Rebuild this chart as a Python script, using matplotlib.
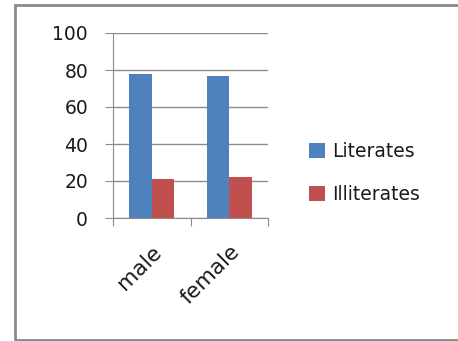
import numpy as np
import matplotlib.pyplot as plt
from matplotlib.patches import Rectangle

# chart values
categories = ["male", "female"]
literates = [77.8, 76.8]
illiterates = [21.1, 22.3]
series_names = ["Literates", "Illiterates"]
colors = ["#4F81BD", "#C0504D"]

plt.rcParams['font.family'] = ['DejaVu Sans']

W, H = 458, 341
fig = plt.figure(figsize=(W / 100, H / 100), dpi=100)

# plot area in pixels: x 113..268, y 33..218
ax = fig.add_axes([113 / W, 1 - 218 / H, (268 - 113) / W, (218 - 33) / H])

x = np.arange(len(categories))
bw = 0.29
b1 = ax.bar(x - bw / 2, literates, bw, color=colors[0], label=series_names[0])
b2 = ax.bar(x + bw / 2, illiterates, bw, color=colors[1], label=series_names[1])

ax.set_xlim(-0.5, len(categories) - 0.5)
ax.set_ylim(0, 100)
ax.set_yticks(range(0, 101, 20))
ax.yaxis.grid(True, color="#8c8c8c", linewidth=1)
ax.set_axisbelow(True)
for s in ["top", "right"]:
    ax.spines[s].set_visible(False)
ax.spines["left"].set_color("#8c8c8c")
ax.spines["bottom"].set_color("#8c8c8c")

# category ticks on boundaries, labels at centres
ax.set_xticks(np.arange(len(categories) + 1) - 0.5)
ax.set_xticklabels([])
ax.set_xticks(x, minor=True)
ax.set_xticklabels(categories, minor=True, rotation=45, ha="right",
                   rotation_mode="anchor", fontsize=15.5, color="#1a1a1a")
ax.tick_params(axis="x", which="major", length=6, color="#8c8c8c", direction="out")
ax.tick_params(axis="x", which="minor", length=0, pad=17)
ax.tick_params(axis="y", length=6, color="#8c8c8c", labelsize=13.5,
               labelcolor="#1a1a1a", pad=12)

leg = fig.legend(handles=[b1, b2], loc="center left",
                 bbox_to_anchor=(292 / W, 1 - 173 / H), frameon=False,
                 fontsize=13.5, handlelength=0.85, handleheight=0.85,
                 handletextpad=0.4, labelspacing=1.3)
for t in leg.get_texts():
    t.set_color("#1a1a1a")

# outer frame
fig.add_artist(Rectangle((15 / W, 1 - 340 / H), (W + 5 - 15) / W, (340 - 5) / H,
                         transform=fig.transFigure, fill=False,
                         edgecolor="#8a8a8a", linewidth=2, clip_on=False))

fig.savefig("out.png", dpi=100)
